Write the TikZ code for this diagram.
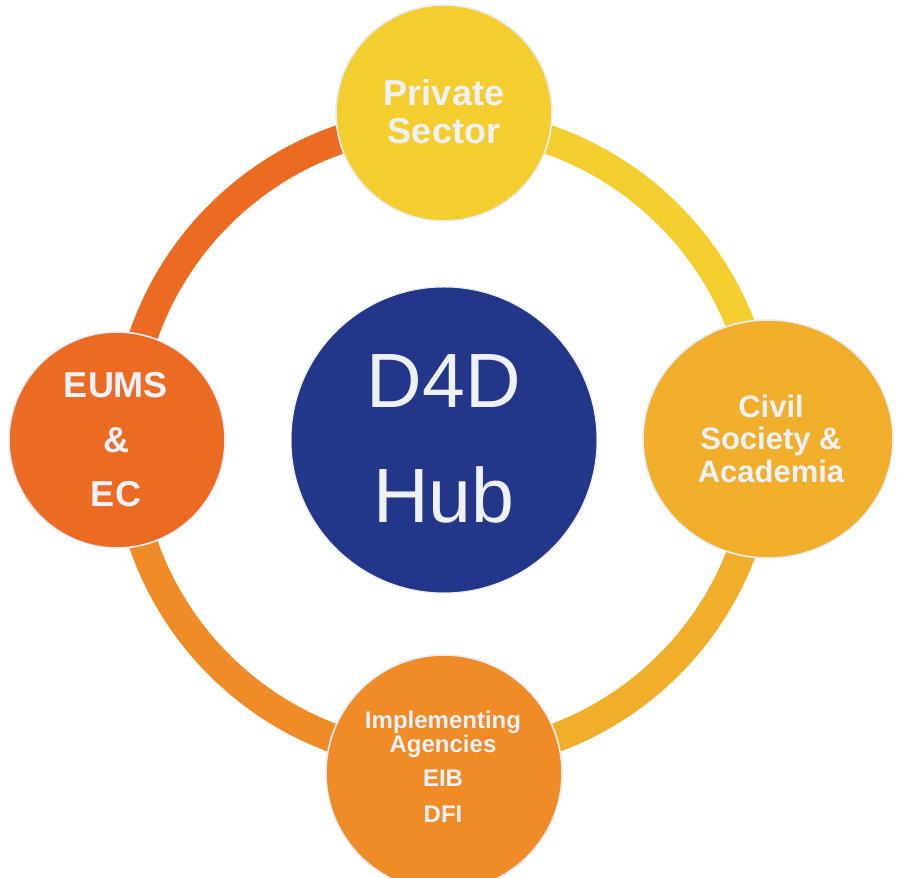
\documentclass[tikz,border=0pt]{standalone}
\usepackage{fontspec}
\setmainfont{Liberation Sans}
\definecolor{cEU}{HTML}{EB6B23}
\definecolor{cPS}{HTML}{F3CE2E}
\definecolor{cCS}{HTML}{F0AE2A}
\definecolor{cIA}{HTML}{EF8C28}
\definecolor{cHub}{HTML}{233689}
\definecolor{cTxt}{HTML}{EEF2F8}
\definecolor{cRim}{HTML}{E6ECF5}
\tikzset{
  ringarc/.style={line width=29pt},
  sat/.style={draw=cRim, line width=1.6pt, inner sep=0pt},
  lbl/.style={anchor=base, text=cTxt, inner sep=0pt, font=\bfseries},
}
\begin{document}
\begin{tikzpicture}[x=1pt,y=1pt]
\useasboundingbox (0,0) rectangle (897,878);
\coordinate (ctr) at (444,438);
% ring arcs
\draw[ringarc, cEU] ([shift={(180:318)}]ctr) arc[start angle=180, end angle=90, radius=318];
\draw[ringarc, cPS] ([shift={(90:318)}]ctr) arc[start angle=90, end angle=0, radius=318];
\draw[ringarc, cCS] ([shift={(0:318)}]ctr) arc[start angle=0, end angle=-90, radius=318];
\draw[ringarc, cIA] ([shift={(-90:318)}]ctr) arc[start angle=-90, end angle=-180, radius=318];
% circles
\node[sat, circle, fill=cHub, draw=cRim, line width=1pt, minimum size=306pt] (hub) at (444,438) {};
\node[sat, circle, fill=cPS, minimum size=216pt] (ps) at (444,765) {};
\node[sat, circle, fill=cEU, minimum size=216pt] (eu) at (117,438) {};
\draw[draw=cRim, line width=1.6pt, fill=cCS] (768,439) ellipse [x radius=125, y radius=119];
\coordinate (cs) at (768,439);
\node[sat, circle, fill=cIA, minimum size=236pt] (ia) at (444,105) {};
% hub text
\node[lbl, font=\fontsize{77}{77}\selectfont] (hub1) at (444,878-408) {D4D};
\node[lbl, font=\fontsize{77}{77}\selectfont] (hub2) at (444,878-523) {Hub};
% private sector
\node[lbl, font=\fontsize{36}{36}\selectfont\bfseries] (ps1) at (444,878-106) {Private};
\node[lbl, font=\fontsize{36}{36}\selectfont\bfseries] (ps2) at (444,878-144) {Sector};
% eums
\node[lbl, font=\fontsize{36}{36}\selectfont\bfseries] (eu1) at (116,878-398) {EUMS};
\node[lbl, font=\fontsize{36}{36}\selectfont\bfseries] (eu2) at (116,878-453) {\&};
\node[lbl, font=\fontsize{36}{36}\selectfont\bfseries] (eu3) at (116,878-507) {EC};
% civil society
\node[lbl, font=\fontsize{31}{31}\selectfont\bfseries] (cs1) at (771,878-418) {Civil};
\node[lbl, font=\fontsize{31}{31}\selectfont\bfseries] (cs2) at (771,878-450) {Society \&};
\node[lbl, font=\fontsize{31}{31}\selectfont\bfseries] (cs3) at (771,878-483) {Academia};
% implementing
\node[lbl, font=\fontsize{24}{24}\selectfont\bfseries] (ia1) at (443,878-729) {Implementing};
\node[lbl, font=\fontsize{24}{24}\selectfont\bfseries] (ia2) at (443,878-753) {Agencies};
\node[lbl, font=\fontsize{24}{24}\selectfont\bfseries] (ia3) at (443,878-787) {EIB};
\node[lbl, font=\fontsize{24}{24}\selectfont\bfseries] (ia4) at (443,878-823) {DFI};
\end{tikzpicture}
\end{document}
